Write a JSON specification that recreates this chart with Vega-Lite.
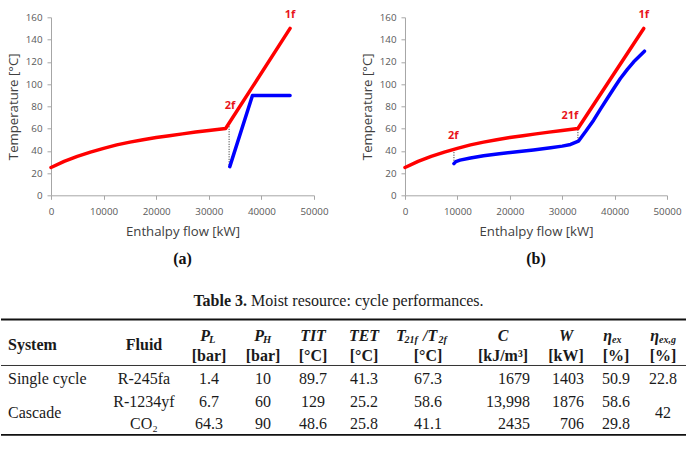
{
  "$schema": "https://vega.github.io/schema/vega-lite/v6.json",
  "background": "white",
  "padding": {"left": 0, "right": 0, "top": 8.3, "bottom": 0},
  "bounds": "flush",
  "columns": 2,
  "spacing": {"row": 53.5, "column": 91},
  "config": {
    "view": {"stroke": null},
    "axis": {
      "grid": false,
      "domainColor": "#A6A6A6",
      "tickColor": "#A6A6A6",
      "tickSize": 4,
      "labelFont": "Open Sans",
      "labelFontSize": 9.8,
      "labelColor": "#595959",
      "labelOverlap": false,
      "titleFont": "Open Sans",
      "titleFontSize": 13.2,
      "titleFontWeight": "normal",
      "titleColor": "#404040"
    },
    "title": {
      "orient": "bottom",
      "font": "Liberation Serif",
      "fontSize": 16,
      "fontWeight": "bold",
      "color": "#111111",
      "offset": 13.5,
      "anchor": "middle",
      "frame": "group"
    },
    "text": {"font": "Liberation Serif", "fontSize": 16, "color": "#1a1a1a"}
  },
  "datasets": {
    "curves": [
      {"chart": "a", "stream": "hot", "x": 0, "T": 25},
      {"chart": "a", "stream": "hot", "x": 2500, "T": 30.5},
      {"chart": "a", "stream": "hot", "x": 5000, "T": 35},
      {"chart": "a", "stream": "hot", "x": 7500, "T": 38.8},
      {"chart": "a", "stream": "hot", "x": 10000, "T": 42.2},
      {"chart": "a", "stream": "hot", "x": 12500, "T": 45.3},
      {"chart": "a", "stream": "hot", "x": 15000, "T": 47.8},
      {"chart": "a", "stream": "hot", "x": 17500, "T": 50},
      {"chart": "a", "stream": "hot", "x": 20000, "T": 51.9},
      {"chart": "a", "stream": "hot", "x": 22500, "T": 53.6},
      {"chart": "a", "stream": "hot", "x": 25000, "T": 55.2},
      {"chart": "a", "stream": "hot", "x": 27500, "T": 56.8},
      {"chart": "a", "stream": "hot", "x": 30000, "T": 58.2},
      {"chart": "a", "stream": "hot", "x": 33200, "T": 60},
      {"chart": "a", "stream": "hot", "x": 45450, "T": 150},
      {"chart": "a", "stream": "cold", "x": 33990, "T": 25.8},
      {"chart": "a", "stream": "cold", "x": 38300, "T": 89.7},
      {"chart": "a", "stream": "cold", "x": 45450, "T": 89.7},
      {"chart": "b", "stream": "hot", "x": 0, "T": 25},
      {"chart": "b", "stream": "hot", "x": 2500, "T": 30.5},
      {"chart": "b", "stream": "hot", "x": 5000, "T": 35},
      {"chart": "b", "stream": "hot", "x": 7500, "T": 38.8},
      {"chart": "b", "stream": "hot", "x": 10000, "T": 42.2},
      {"chart": "b", "stream": "hot", "x": 12500, "T": 45.3},
      {"chart": "b", "stream": "hot", "x": 15000, "T": 47.8},
      {"chart": "b", "stream": "hot", "x": 17500, "T": 50},
      {"chart": "b", "stream": "hot", "x": 20000, "T": 51.9},
      {"chart": "b", "stream": "hot", "x": 22500, "T": 53.6},
      {"chart": "b", "stream": "hot", "x": 25000, "T": 55.2},
      {"chart": "b", "stream": "hot", "x": 27500, "T": 56.8},
      {"chart": "b", "stream": "hot", "x": 30000, "T": 58.2},
      {"chart": "b", "stream": "hot", "x": 33000, "T": 60},
      {"chart": "b", "stream": "hot", "x": 45560, "T": 150},
      {"chart": "b", "stream": "cold", "x": 9340, "T": 28.5},
      {"chart": "b", "stream": "cold", "x": 9700, "T": 30.3},
      {"chart": "b", "stream": "cold", "x": 10500, "T": 31.6},
      {"chart": "b", "stream": "cold", "x": 12500, "T": 33.6},
      {"chart": "b", "stream": "cold", "x": 15000, "T": 35.5},
      {"chart": "b", "stream": "cold", "x": 18000, "T": 37.3},
      {"chart": "b", "stream": "cold", "x": 21400, "T": 39.1},
      {"chart": "b", "stream": "cold", "x": 24500, "T": 40.8},
      {"chart": "b", "stream": "cold", "x": 27800, "T": 42.7},
      {"chart": "b", "stream": "cold", "x": 30000, "T": 44.2},
      {"chart": "b", "stream": "cold", "x": 31600, "T": 45.7},
      {"chart": "b", "stream": "cold", "x": 33100, "T": 48.6},
      {"chart": "b", "stream": "cold", "x": 34500, "T": 57.5},
      {"chart": "b", "stream": "cold", "x": 36000, "T": 67.5},
      {"chart": "b", "stream": "cold", "x": 37300, "T": 77.5},
      {"chart": "b", "stream": "cold", "x": 38600, "T": 87},
      {"chart": "b", "stream": "cold", "x": 39900, "T": 96.5},
      {"chart": "b", "stream": "cold", "x": 41100, "T": 105},
      {"chart": "b", "stream": "cold", "x": 42400, "T": 113},
      {"chart": "b", "stream": "cold", "x": 43650, "T": 120},
      {"chart": "b", "stream": "cold", "x": 45700, "T": 129.5}
    ],
    "pinch": [
      {"chart": "a", "id": "a1", "x": 33860, "T": 62},
      {"chart": "a", "id": "a1", "x": 33860, "T": 26},
      {"chart": "b", "id": "b1", "x": 9340, "T": 41},
      {"chart": "b", "id": "b1", "x": 9340, "T": 29},
      {"chart": "b", "id": "b2", "x": 33000, "T": 59},
      {"chart": "b", "id": "b2", "x": 33000, "T": 49}
    ],
    "points": [
      {"chart": "a", "text": "1f", "x": 45443, "T": 162},
      {"chart": "a", "text": "2f", "x": 34050, "T": 80.4},
      {"chart": "b", "text": "1f", "x": 45558, "T": 162},
      {"chart": "b", "text": "21f", "x": 31455, "T": 71.5},
      {"chart": "b", "text": "2f", "x": 9226, "T": 53.1}
    ],
    "trules": [
      {"rule": "top", "col": -1, "colEnd": 11, "line": 2},
      {"rule": "mid", "col": -1, "colEnd": 11, "line": 6},
      {"rule": "bottom", "col": -1, "colEnd": 11, "line": 11}
    ],
    "tcaption": [
      {"part": "number", "col": 3, "line": 1, "text": "Table 3."},
      {"part": "caption", "col": 3, "line": 1, "text": "Moist resource: cycle performances."}
    ],
    "tnames": [
      {"col": 0, "line": 4, "text": "System"},
      {"col": 1, "line": 4, "text": "Fluid"}
    ],
    "tsymbols": [
      {"col": 2, "line": 3, "text": "P", "sub": "L"},
      {"col": 3, "line": 3, "text": "P", "sub": "H"},
      {"col": 4, "line": 3, "text": "TIT", "sub": ""},
      {"col": 5, "line": 3, "text": "TET", "sub": ""},
      {"col": 6, "line": 3, "text": "T", "sub": "21f"},
      {"col": 6, "line": 3, "text": "/T", "sub": "2f"},
      {"col": 7, "line": 3, "text": "C", "sub": ""},
      {"col": 8, "line": 3, "text": "W", "sub": ""},
      {"col": 9, "line": 3, "text": "η", "sub": "ex"},
      {"col": 10, "line": 3, "text": "η", "sub": "ex,g"}
    ],
    "tunits": [
      {"col": 2, "line": 5, "text": "[bar]"},
      {"col": 3, "line": 5, "text": "[bar]"},
      {"col": 4, "line": 5, "text": "[°C]"},
      {"col": 5, "line": 5, "text": "[°C]"},
      {"col": 6, "line": 5, "text": "[°C]"},
      {"col": 7, "line": 5, "text": "[kJ/m³]"},
      {"col": 8, "line": 5, "text": "[kW]"},
      {"col": 9, "line": 5, "text": "[%]"},
      {"col": 10, "line": 5, "text": "[%]"}
    ],
    "tbody": [
      {"line": 7, "col": 0, "text": "Single cycle"},
      {"line": 7, "col": 1, "text": "R-245fa"},
      {"line": 7, "col": 2, "text": "1.4"},
      {"line": 7, "col": 3, "text": "10"},
      {"line": 7, "col": 4, "text": "89.7"},
      {"line": 7, "col": 5, "text": "41.3"},
      {"line": 7, "col": 6, "text": "67.3"},
      {"line": 7, "col": 7, "text": "1679"},
      {"line": 7, "col": 8, "text": "1403"},
      {"line": 7, "col": 9, "text": "50.9"},
      {"line": 7, "col": 10, "text": "22.8"},
      {"line": 8, "col": 1, "text": "R-1234yf"},
      {"line": 8, "col": 2, "text": "6.7"},
      {"line": 8, "col": 3, "text": "60"},
      {"line": 8, "col": 4, "text": "129"},
      {"line": 8, "col": 5, "text": "25.2"},
      {"line": 8, "col": 6, "text": "58.6"},
      {"line": 8, "col": 7, "text": "13,998"},
      {"line": 8, "col": 8, "text": "1876"},
      {"line": 8, "col": 9, "text": "58.6"},
      {"line": 9, "col": 0, "text": "Cascade"},
      {"line": 9, "col": 10, "text": "42"},
      {"line": 10, "col": 1, "text": "CO₂"},
      {"line": 10, "col": 2, "text": "64.3"},
      {"line": 10, "col": 3, "text": "90"},
      {"line": 10, "col": 4, "text": "48.6"},
      {"line": 10, "col": 5, "text": "25.8"},
      {"line": 10, "col": 6, "text": "41.1"},
      {"line": 10, "col": 7, "text": "2435"},
      {"line": 10, "col": 8, "text": "706"},
      {"line": 10, "col": 9, "text": "29.8"}
    ]
  },
  "concat": [
    {
      "width": 263,
      "height": 178,
      "title": {"text": "(a)"},
      "encoding": {
        "x": {"field": "x", "type": "quantitative", "scale": {"domain": [0, 50000], "nice": false},
              "axis": {"title": "Enthalpy flow [kW]", "values": [0, 10000, 20000, 30000, 40000, 50000], "format": "d", "labelFlush": false, "labelPadding": 7, "titlePadding": 9.5}},
        "y": {"field": "T", "type": "quantitative", "scale": {"domain": [0, 160], "nice": false},
              "axis": {"title": "Temperature [°C]", "values": [0, 20, 40, 60, 80, 100, 120, 140, 160], "labelOverlap": false, "labelPadding": 5, "titlePadding": 5}}
      },
      "layer": [
        {
          "data": {"name": "pinch"},
          "transform": [{"filter": "datum.chart == 'a'"}],
          "mark": {"type": "line", "strokeDash": [1, 1.5], "strokeWidth": 1, "color": "#222222"},
          "encoding": {"detail": {"field": "id"}}
        },
        {
          "data": {"name": "curves"},
          "transform": [{"filter": "datum.chart == 'a'"}],
          "mark": {"type": "line", "strokeWidth": 3.5, "strokeCap": "round", "strokeJoin": "round"},
          "encoding": {
            "color": {"field": "stream", "type": "nominal", "scale": {"domain": ["hot", "cold"], "range": ["#FF0000", "#0000FF"]}, "legend": null}
          }
        },
        {
          "data": {"name": "points"},
          "transform": [{"filter": "datum.chart == 'a'"}],
          "mark": {"type": "text", "font": "Open Sans", "fontWeight": "bold", "fontSize": 11, "color": "#E8141C"},
          "encoding": {"text": {"field": "text"}}
        }
      ]
    },
    {
      "width": 262,
      "height": 178,
      "title": {"text": "(b)"},
      "encoding": {
        "x": {"field": "x", "type": "quantitative", "scale": {"domain": [0, 50000], "nice": false},
              "axis": {"title": "Enthalpy flow [kW]", "values": [0, 10000, 20000, 30000, 40000, 50000], "format": "d", "labelFlush": false, "labelPadding": 7, "titlePadding": 9.5}},
        "y": {"field": "T", "type": "quantitative", "scale": {"domain": [0, 160], "nice": false},
              "axis": {"title": "Temperature [°C]", "values": [0, 20, 40, 60, 80, 100, 120, 140, 160], "labelOverlap": false, "labelPadding": 5, "titlePadding": 5}}
      },
      "layer": [
        {
          "data": {"name": "pinch"},
          "transform": [{"filter": "datum.chart == 'b'"}],
          "mark": {"type": "line", "strokeDash": [1, 1.5], "strokeWidth": 1, "color": "#222222"},
          "encoding": {"detail": {"field": "id"}}
        },
        {
          "data": {"name": "curves"},
          "transform": [{"filter": "datum.chart == 'b'"}],
          "mark": {"type": "line", "strokeWidth": 3.5, "strokeCap": "round", "strokeJoin": "round"},
          "encoding": {
            "color": {"field": "stream", "type": "nominal", "scale": {"domain": ["hot", "cold"], "range": ["#FF0000", "#0000FF"]}, "legend": null}
          }
        },
        {
          "data": {"name": "points"},
          "transform": [{"filter": "datum.chart == 'b'"}],
          "mark": {"type": "text", "font": "Open Sans", "fontWeight": "bold", "fontSize": 11, "color": "#E8141C"},
          "encoding": {"text": {"field": "text"}}
        }
      ]
    },
    {
      "width": 263,
      "height": 195,
      "encoding": {
        "x": {"field": "col", "type": "quantitative", "axis": null,
              "scale": {"domain": [-1, 0, 1, 2, 3, 4, 5, 6, 7, 8, 9, 10, 11], "range": [-50, -43, 93, 158, 212, 262, 313, 377, 452, 515, 565, 612, 635], "zero": false, "nice": false}},
        "y": {"field": "line", "type": "quantitative", "axis": null,
              "scale": {"domain": [0, 1, 2, 3, 4, 5, 6, 7, 8, 9, 10, 11], "range": [10, 52, 70.7, 87, 96, 107, 116.7, 130.7, 153, 164, 175, 186], "zero": false, "nice": false}}
      },
      "layer": [
        {
          "data": {"name": "trules"},
          "transform": [{"filter": "datum.rule != 'mid'"}],
          "mark": {"type": "rule", "strokeWidth": 1.8, "color": "#111111"},
          "encoding": {"x2": {"field": "colEnd"}}
        },
        {
          "data": {"name": "trules"},
          "transform": [{"filter": "datum.rule == 'mid'"}],
          "mark": {"type": "rule", "strokeWidth": 1, "color": "#333333"},
          "encoding": {"x2": {"field": "colEnd"}}
        },
        {
          "data": {"name": "tcaption"},
          "transform": [{"filter": "datum.part == 'number'"}],
          "mark": {"type": "text", "fontWeight": "bold", "align": "right", "dx": -16},
          "encoding": {"text": {"field": "text"}}
        },
        {
          "data": {"name": "tcaption"},
          "transform": [{"filter": "datum.part == 'caption'"}],
          "mark": {"type": "text", "align": "left", "dx": -12},
          "encoding": {"text": {"field": "text"}}
        },
        {
          "data": {"name": "tnames"},
          "transform": [{"filter": "datum.col == 0"}],
          "mark": {"type": "text", "fontWeight": "bold", "align": "left"},
          "encoding": {"text": {"field": "text"}}
        },
        {
          "data": {"name": "tnames"},
          "transform": [{"filter": "datum.col == 1"}],
          "mark": {"type": "text", "fontWeight": "bold", "align": "center"},
          "encoding": {"text": {"field": "text"}}
        },
        {
          "data": {"name": "tsymbols"},
          "transform": [{"filter": "datum.col == 4 || datum.col == 5 || datum.col == 7 || datum.col == 8"}],
          "mark": {"type": "text", "fontWeight": "bold", "fontStyle": "italic", "align": "center"},
          "encoding": {"text": {"field": "text"}}
        },
        {
          "data": {"name": "tsymbols"},
          "transform": [{"filter": "datum.col == 2 || datum.col == 3"}],
          "mark": {"type": "text", "fontWeight": "bold", "fontStyle": "italic", "align": "right", "dx": 1},
          "encoding": {"text": {"field": "text"}}
        },
        {
          "data": {"name": "tsymbols"},
          "transform": [{"filter": "datum.col == 2 || datum.col == 3"}],
          "mark": {"type": "text", "fontWeight": "bold", "fontStyle": "italic", "fontSize": 10.5, "align": "left", "dx": 0, "dy": 4},
          "encoding": {"text": {"field": "sub"}}
        },
        {
          "data": {"name": "tsymbols"},
          "transform": [{"filter": "datum.col == 9 || datum.col == 10"}],
          "mark": {"type": "text", "fontWeight": "bold", "fontStyle": "italic", "align": "right", "dx": -4},
          "encoding": {"text": {"field": "text"}}
        },
        {
          "data": {"name": "tsymbols"},
          "transform": [{"filter": "datum.col == 9 || datum.col == 10"}],
          "mark": {"type": "text", "fontWeight": "bold", "fontStyle": "italic", "fontSize": 10, "align": "left", "dx": -4, "dy": 4},
          "encoding": {"text": {"field": "sub"}}
        },
        {
          "data": {"name": "tsymbols"},
          "transform": [{"filter": "datum.col == 6 && datum.text == 'T'"}],
          "mark": {"type": "text", "fontWeight": "bold", "fontStyle": "italic", "align": "left", "dx": -32},
          "encoding": {"text": {"field": "text"}}
        },
        {
          "data": {"name": "tsymbols"},
          "transform": [{"filter": "datum.col == 6 && datum.text == 'T'"}],
          "mark": {"type": "text", "fontWeight": "bold", "fontStyle": "italic", "fontSize": 10, "align": "left", "dx": -23.5, "dy": 4},
          "encoding": {"text": {"field": "sub"}}
        },
        {
          "data": {"name": "tsymbols"},
          "transform": [{"filter": "datum.col == 6 && datum.text == '/T'"}],
          "mark": {"type": "text", "fontWeight": "bold", "fontStyle": "italic", "align": "left", "dx": -5},
          "encoding": {"text": {"field": "text"}}
        },
        {
          "data": {"name": "tsymbols"},
          "transform": [{"filter": "datum.col == 6 && datum.text == '/T'"}],
          "mark": {"type": "text", "fontWeight": "bold", "fontStyle": "italic", "fontSize": 10, "align": "left", "dx": 10.5, "dy": 4},
          "encoding": {"text": {"field": "sub"}}
        },
        {
          "data": {"name": "tunits"},
          "mark": {"type": "text", "fontWeight": "bold", "align": "center"},
          "encoding": {"text": {"field": "text"}}
        },
        {
          "data": {"name": "tbody"},
          "transform": [{"filter": "datum.col == 0"}],
          "mark": {"type": "text", "align": "left"},
          "encoding": {"text": {"field": "text"}}
        },
        {
          "data": {"name": "tbody"},
          "transform": [{"filter": "datum.col != 0 && datum.col != 7 && datum.col != 8"}],
          "mark": {"type": "text", "align": "center"},
          "encoding": {"text": {"field": "text"}}
        },
        {
          "data": {"name": "tbody"},
          "transform": [{"filter": "datum.col == 7"}],
          "mark": {"type": "text", "align": "right", "dx": 27},
          "encoding": {"text": {"field": "text"}}
        },
        {
          "data": {"name": "tbody"},
          "transform": [{"filter": "datum.col == 8"}],
          "mark": {"type": "text", "align": "right", "dx": 18},
          "encoding": {"text": {"field": "text"}}
        }
      ]
    }
  ]
}
